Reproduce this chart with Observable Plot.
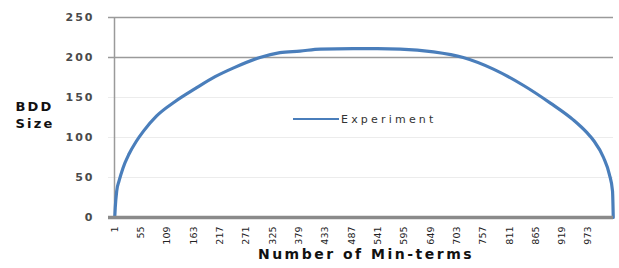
<!DOCTYPE html>
<html>
<head>
<meta charset="utf-8">
<script src="https://cdn.jsdelivr.net/npm/d3@7"></script>
<script src="https://cdn.jsdelivr.net/npm/@observablehq/plot@0.6"></script>
<style>
  html, body { margin: 0; padding: 0; background: #fff; }
</style>
</head>
<body>
<div id="chart"></div>
<script>
// Number of min-terms (category index) and BDD size
const minTerms = [1, 2, 5, 10, 18, 30, 45, 60, 87, 125, 166, 207, 245, 299, 340, 381, 423, 490, 540, 587, 655, 716, 778, 840, 895, 942, 970, 984, 1004, 1016, 1022.5, 1024];
const bddSize  = [0, 12, 33, 46, 62, 79, 95, 108, 127, 145, 161, 176, 187, 200, 206, 208, 210.5, 211, 211, 210.5, 207, 200, 185.5, 165, 143, 122, 106, 96, 75, 54, 33, 0];
const xTickLabels = [1, 55, 109, 163, 217, 271, 325, 379, 433, 487, 541, 595, 649, 703, 757, 811, 865, 919, 973];
const yTickLabels = [0, 50, 100, 150, 200, 250];
const seriesName = "Experiment";
const yTitle = ["BDD", "Size"];
const xTitle = "Number of Min-terms";

const data = minTerms.map((x, i) => ({x, y: bddSize[i]}));
const lineColor = "#4a7ebb";

const legend = (index, scales, values, dims) => {
  const g = d3.create("svg:g");
  const x0 = 293, y0 = 119;
  g.append("line").attr("x1", x0).attr("x2", x0 + 46).attr("y1", y0).attr("y2", y0)
    .attr("stroke", lineColor).attr("stroke-width", 2.2);
  g.append("text").attr("x", x0 + 48).attr("y", y0).attr("dy", "0.35em")
    .attr("text-anchor", "start")
    .attr("font-size", 11).attr("fill", "#333").attr("letter-spacing", "3.2px").text(seriesName);
  return g.node();
};

const chart = Plot.plot({
  width: 619,
  height: 268,
  marginLeft: 114,
  marginRight: 6,
  marginTop: 17,
  marginBottom: 51,
  style: {fontFamily: "DejaVu Sans, sans-serif", background: "#fff"},
  x: {domain: [0.5, 1024.5]},
  y: {domain: [0, 250]},
  marks: [
    Plot.ruleY(yTickLabels.filter(d => d > 0), {y: d => d, stroke: d => d >= 200 ? "#9a9a9a" : "#ececec", strokeWidth: d => d >= 200 ? 1.5 : 1.2, insetLeft: -6}),
    Plot.ruleX([0.5], {y1: 0, y2: 250, stroke: "#9a9a9a", strokeWidth: 1.5}),
    Plot.axisY({ticks: yTickLabels, tickSize: 0, tickPadding: 20, fontSize: 11, fontWeight: "bold", fill: "#4a4a4a", label: null}),
    Plot.axisX({ticks: xTickLabels, tickSize: 0, tickPadding: 9, tickRotate: -90, fontSize: 9.5, fill: "#222", label: null}),
    Plot.line(data, {x: "x", y: "y", stroke: lineColor, strokeWidth: 3.2, curve: "monotone-x"}),
    Plot.ruleY([0], {stroke: "#8a8a8a", strokeWidth: 3.5, insetLeft: -6}),
    Plot.text([yTitle.join("\n")], {text: d => d, frameAnchor: "left", dx: -99, dy: -3, fontWeight: "bold", fontSize: 13, fill: "#111", lineHeight: 1.3, textAnchor: "start"}),
    Plot.text([xTitle], {text: d => d, frameAnchor: "bottom", dx: 0, dy: 41, fontWeight: "bold", fontSize: 14, fill: "#111"}),
    legend
  ]
});
const root = d3.select(chart);
root.selectAll('g[aria-label="y-axis tick label"] text').style("letter-spacing", "2px");
root.selectAll("text").each(function () {
  const t = this.textContent;
  if (t === xTitle) d3.select(this).style("letter-spacing", "2.5px").attr("dx", "2px");
  if (t.startsWith(yTitle[0])) d3.select(this).style("letter-spacing", "2.2px");
});
document.getElementById("chart").appendChild(chart);
</script>
</body>
</html>
